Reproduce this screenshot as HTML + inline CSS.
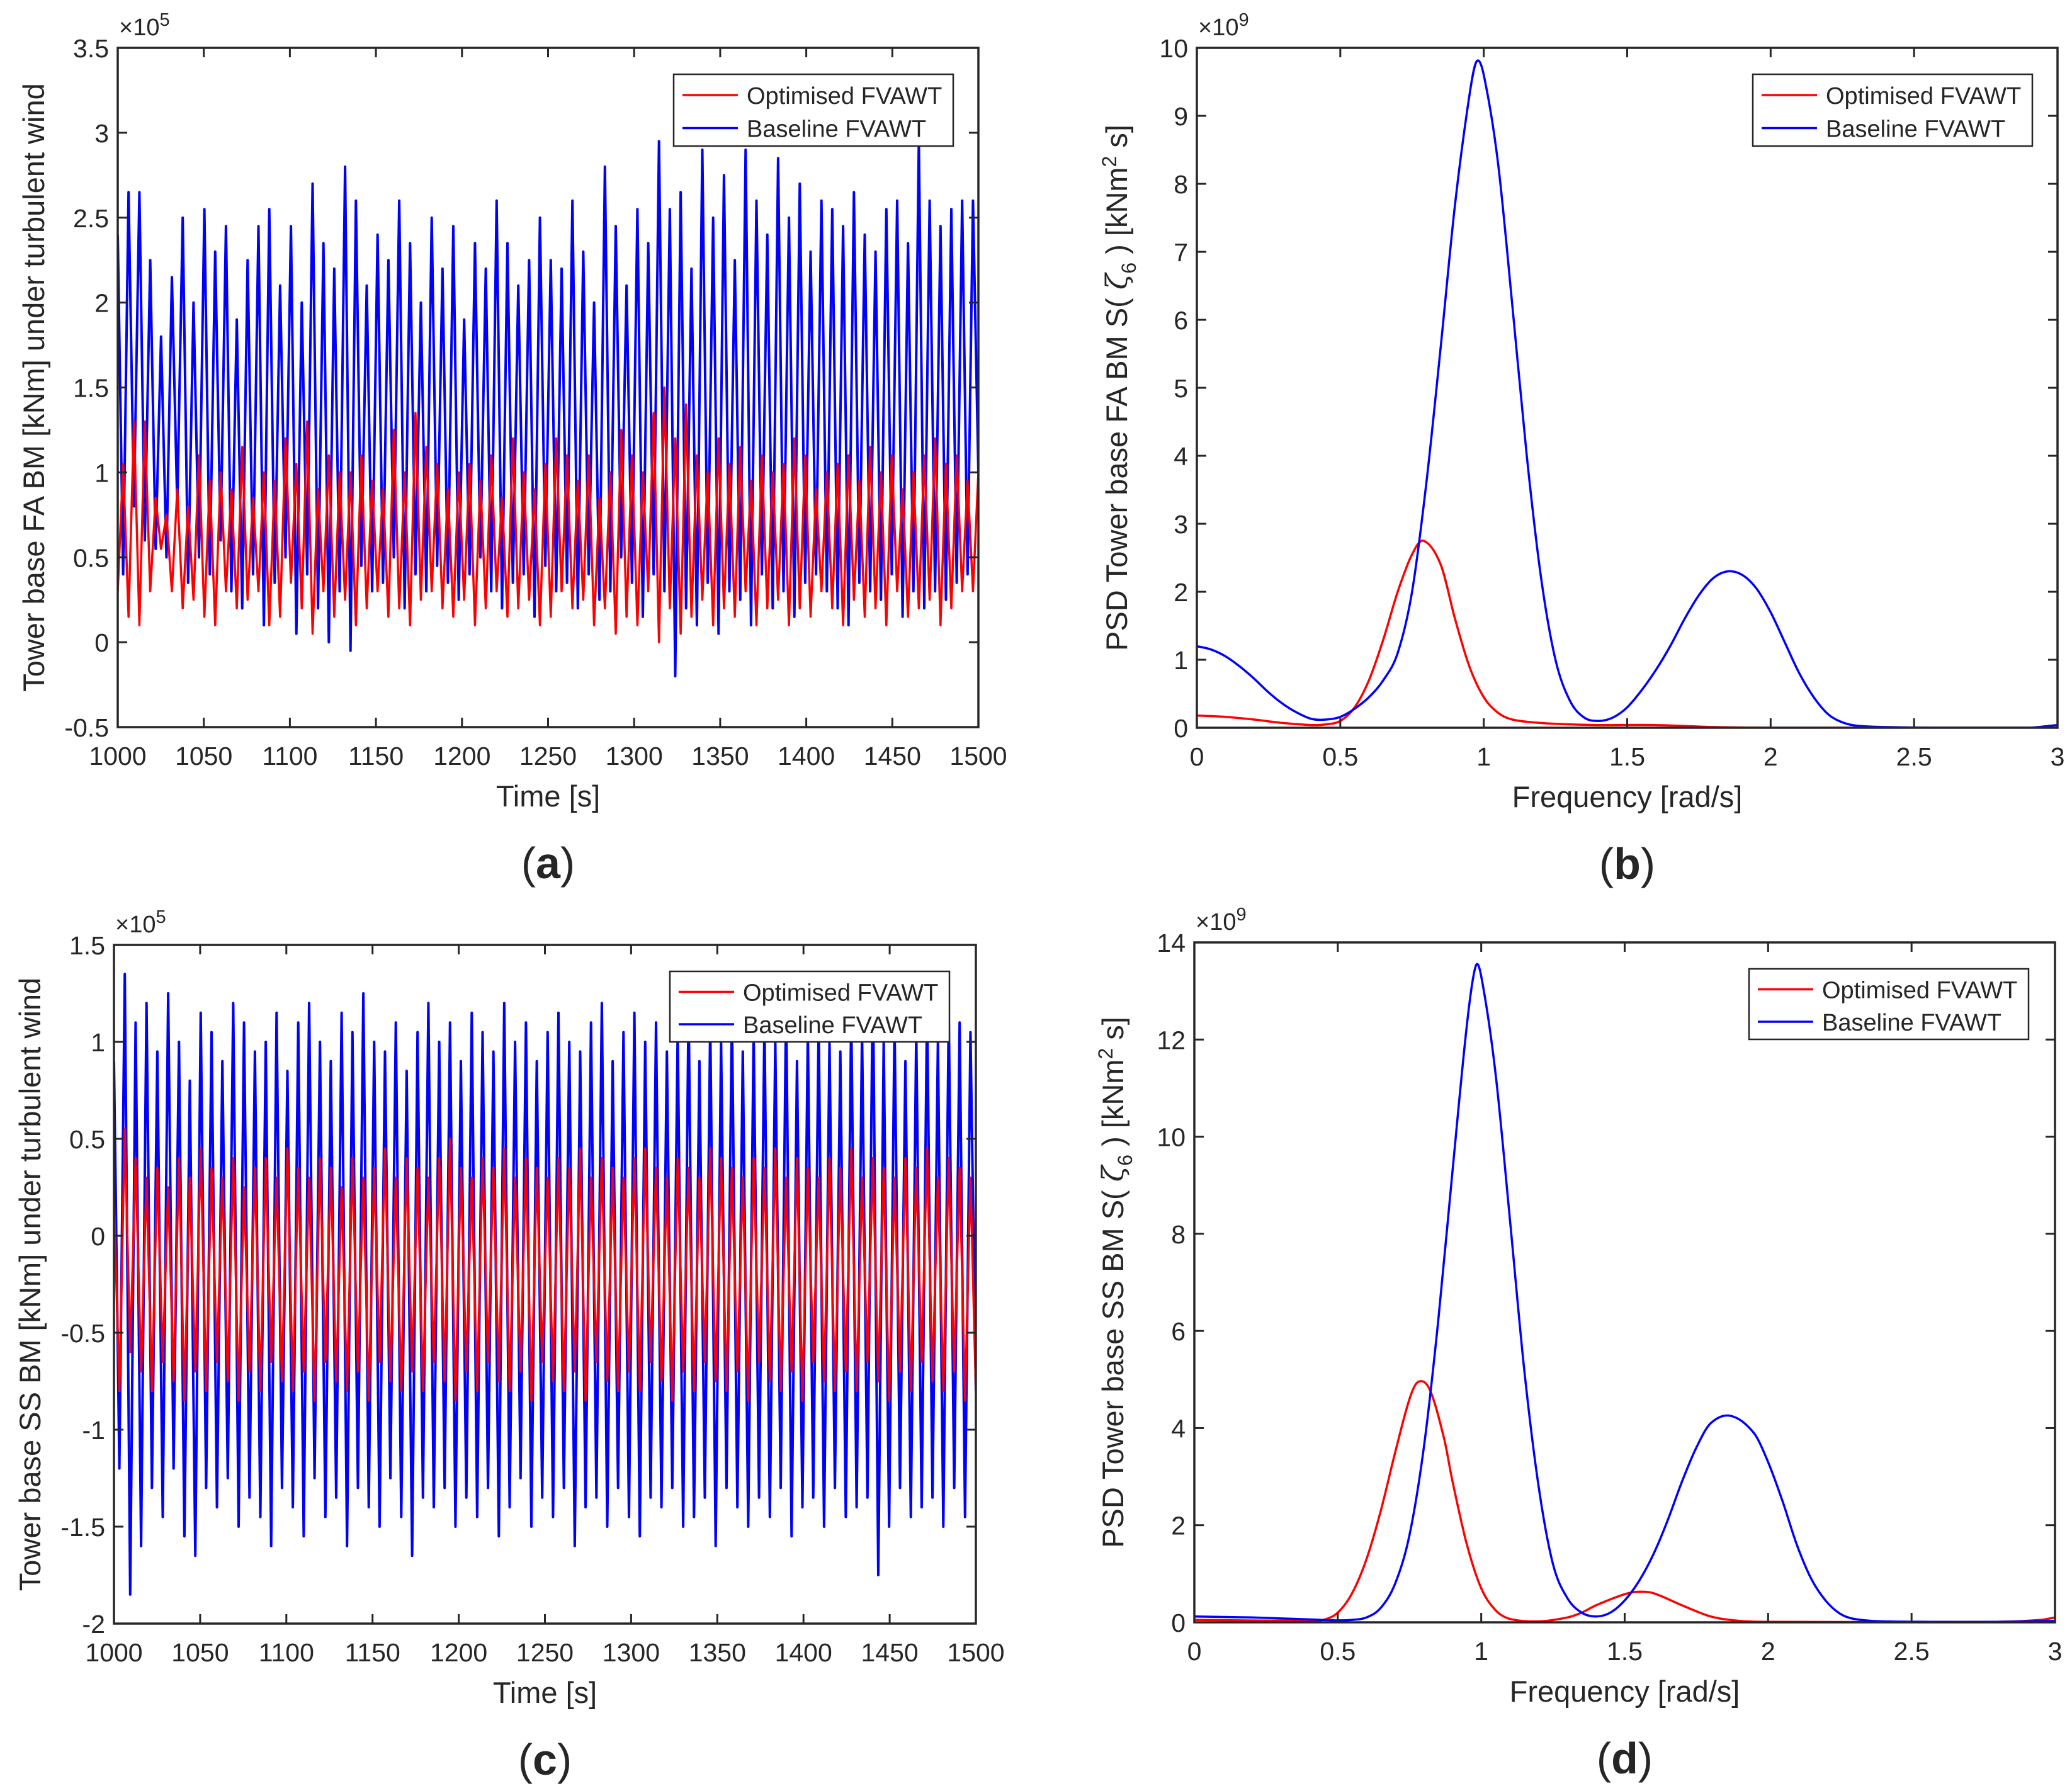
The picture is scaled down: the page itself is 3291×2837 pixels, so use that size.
<!DOCTYPE html>
<html><head><meta charset="utf-8"><style>
html,body{margin:0;padding:0;background:#fff}
svg{display:block}
text{font-family:"Liberation Sans",sans-serif;fill:#262626}
</style></head><body>
<svg id="fig" width="3291" height="2837" viewBox="0 0 3291 2837" xmlns="http://www.w3.org/2000/svg"></svg>
<script>
// ---------- DATA ----------
const aBluePeaks=[2.4,2.65,2.65,2.25,1.8,2.15,2.5,2.0,2.55,2.3,2.45,1.9,2.25,2.45,2.55,2.1,2.45,2.0,2.7,2.35,2.2,2.8,2.6,2.1,2.4,2.25,2.6,2.35,2.0,2.5,2.2,2.45,1.9,2.35,2.2,2.6,2.35,2.1,2.25,2.5,2.25,2.2,2.6,2.3,2.0,2.8,2.45,2.1,2.55,2.35,2.95,2.55,2.65,2.2,2.9,2.5,2.75,2.25,2.9,2.6,2.4,2.85,2.5,2.7,2.3,2.6,2.55,2.45,2.65,2.4,2.3,2.55,2.6,2.35,2.95,2.6,2.45,2.55,2.6,2.6];
const aBlueTroughs=[0.4,0.8,0.6,0.55,0.5,0.8,0.35,0.5,0.4,0.6,0.3,0.2,0.4,0.1,0.35,0.5,0.05,0.4,0.2,0.0,0.3,-0.05,0.45,0.3,0.35,0.5,0.2,0.4,0.3,0.45,0.35,0.25,0.4,0.5,0.3,0.2,0.35,0.4,0.15,0.45,0.3,0.35,0.2,0.4,0.25,0.3,0.5,0.35,0.15,0.4,0.3,-0.2,0.2,0.1,0.35,0.05,0.3,0.25,0.1,0.4,0.2,0.3,0.15,0.35,0.4,0.3,0.2,0.1,0.35,0.3,0.25,0.4,0.15,0.3,0.2,0.3,0.25,0.35,0.4,1.0];
const aRedPeaks=[1.05,1.3,1.3,0.85,0.75,0.9,0.8,1.1,0.95,1.0,0.9,1.15,0.85,1.0,0.95,1.2,1.05,1.3,0.9,1.1,1.0,1.0,1.1,0.95,0.9,1.25,1.0,1.35,1.15,1.05,0.9,1.0,1.05,0.95,1.1,0.85,1.2,1.0,0.9,1.05,1.2,1.1,0.95,1.1,0.85,1.0,1.25,1.1,1.0,1.35,1.5,1.2,1.4,1.1,1.0,1.2,1.05,1.15,0.95,1.1,1.0,1.05,1.2,1.1,0.9,1.0,1.05,1.1,0.95,1.15,1.0,1.1,0.9,1.0,1.1,1.2,1.05,1.1,0.95,1.0];
const aRedTroughs=[0.3,0.15,0.1,0.3,0.55,0.3,0.2,0.25,0.15,0.1,0.3,0.2,0.25,0.3,0.1,0.15,0.35,0.2,0.05,0.3,0.15,0.25,0.1,0.2,0.3,0.15,0.2,0.1,0.25,0.3,0.2,0.15,0.25,0.1,0.2,0.3,0.15,0.2,0.25,0.1,0.15,0.3,0.2,0.25,0.1,0.2,0.05,0.15,0.1,0.3,0.0,0.2,0.05,0.15,0.25,0.1,0.2,0.15,0.3,0.1,0.2,0.25,0.1,0.2,0.15,0.3,0.2,0.1,0.25,0.15,0.2,0.1,0.3,0.15,0.2,0.25,0.1,0.2,0.3,0.3];
const cBluePeaks=[0.9,1.35,1.1,1.2,0.95,1.25,1.0,0.8,1.15,1.05,0.9,1.2,1.1,0.95,1.0,1.15,0.85,1.1,1.2,1.0,0.9,1.15,1.05,1.25,1.0,0.95,1.1,0.85,1.05,1.2,1.0,1.1,0.9,1.15,1.05,0.95,1.2,1.0,1.1,0.9,1.05,1.15,1.0,0.95,1.1,1.2,0.9,1.05,1.15,1.0,1.1,0.95,1.05,1.2,0.9,1.1,1.0,1.15,0.95,1.05,1.1,1.0,1.2,0.9,1.05,1.1,1.0,0.95,1.15,1.05,1.35,1.0,1.1,0.9,1.05,1.2,1.0,1.15,1.1,1.05];
const cBlueTroughs=[-1.2,-1.85,-1.6,-1.3,-1.45,-1.2,-1.55,-1.65,-1.3,-1.4,-1.25,-1.5,-1.35,-1.45,-1.6,-1.3,-1.4,-1.55,-1.25,-1.45,-1.35,-1.6,-1.3,-1.4,-1.5,-1.25,-1.45,-1.65,-1.35,-1.4,-1.3,-1.5,-1.35,-1.45,-1.3,-1.55,-1.4,-1.25,-1.5,-1.35,-1.45,-1.3,-1.6,-1.4,-1.35,-1.5,-1.3,-1.45,-1.55,-1.35,-1.4,-1.3,-1.5,-1.45,-1.35,-1.6,-1.3,-1.4,-1.5,-1.35,-1.45,-1.3,-1.55,-1.4,-1.35,-1.5,-1.3,-1.45,-1.4,-1.35,-1.75,-1.5,-1.3,-1.45,-1.4,-1.35,-1.5,-1.3,-1.45,-0.8];
const cRedPeaks=[0.2,0.55,0.4,0.3,0.35,0.25,0.4,0.3,0.45,0.35,0.3,0.4,0.25,0.35,0.4,0.3,0.45,0.35,0.3,0.4,0.35,0.25,0.4,0.3,0.35,0.45,0.3,0.4,0.35,0.3,0.4,0.5,0.35,0.3,0.4,0.35,0.45,0.3,0.4,0.35,0.3,0.4,0.35,0.45,0.3,0.4,0.35,0.3,0.4,0.45,0.35,0.3,0.4,0.35,0.3,0.45,0.4,0.35,0.3,0.4,0.35,0.45,0.3,0.4,0.35,0.3,0.4,0.35,0.45,0.3,0.4,0.35,0.3,0.4,0.35,0.45,0.3,0.4,0.35,0.3];
const cRedTroughs=[-0.8,-0.6,-0.7,-0.8,-0.65,-0.75,-0.85,-0.7,-0.8,-0.65,-0.75,-0.85,-0.7,-0.8,-0.65,-0.75,-0.8,-0.7,-0.85,-0.65,-0.75,-0.8,-0.7,-0.85,-0.65,-0.75,-0.8,-0.7,-0.8,-0.65,-0.75,-0.85,-0.7,-0.8,-0.65,-0.75,-0.8,-0.7,-0.85,-0.65,-0.75,-0.8,-0.7,-0.85,-0.65,-0.75,-0.8,-0.7,-0.8,-0.65,-0.75,-0.85,-0.7,-0.8,-0.65,-0.75,-0.8,-0.7,-0.85,-0.65,-0.75,-0.8,-0.7,-0.85,-0.65,-0.75,-0.8,-0.7,-0.8,-0.65,-0.75,-0.85,-0.7,-0.8,-0.65,-0.75,-0.8,-0.7,-0.85,-0.8];

const bBlueF=[0,0.05,0.1,0.15,0.2,0.25,0.3,0.35,0.4,0.45,0.5,0.55,0.6,0.65,0.7,0.75,0.8,0.85,0.9,0.95,0.975,1.0,1.05,1.1,1.15,1.2,1.25,1.3,1.35,1.4,1.45,1.5,1.55,1.6,1.65,1.7,1.75,1.8,1.85,1.9,1.95,2.0,2.05,2.1,2.15,2.2,2.25,2.3,2.4,2.6,2.9,3.0];
const bBlueV=[1.2,1.15,1.05,0.9,0.72,0.52,0.35,0.22,0.13,0.12,0.16,0.28,0.45,0.7,1.1,2.0,3.6,5.6,7.7,9.3,9.8,9.6,8.3,6.2,4.0,2.2,1.0,0.4,0.15,0.1,0.15,0.3,0.55,0.85,1.2,1.6,1.95,2.2,2.3,2.25,2.05,1.7,1.25,0.8,0.45,0.2,0.08,0.03,0.01,0.0,0.0,0.04];
const bRedF=[0,0.1,0.2,0.3,0.4,0.45,0.5,0.55,0.6,0.65,0.7,0.75,0.79,0.85,0.9,0.95,1.0,1.05,1.1,1.2,1.3,1.4,1.6,1.8,2.0,3.0];
const bRedV=[0.18,0.16,0.12,0.07,0.04,0.05,0.1,0.3,0.7,1.3,2.0,2.55,2.75,2.4,1.6,0.9,0.45,0.22,0.12,0.07,0.05,0.04,0.04,0.01,0.0,0.0];
const dBlueF=[0,0.2,0.4,0.5,0.55,0.6,0.65,0.7,0.75,0.8,0.85,0.9,0.95,0.98,1.0,1.05,1.1,1.15,1.2,1.25,1.3,1.35,1.4,1.45,1.5,1.55,1.6,1.65,1.7,1.75,1.8,1.87,1.95,2.0,2.05,2.1,2.15,2.2,2.25,2.3,2.4,2.8,3.0];
const dBlueV=[0.12,0.1,0.06,0.04,0.05,0.1,0.3,0.8,1.8,3.6,6.2,9.3,12.3,13.5,13.3,11.3,8.3,5.2,2.8,1.2,0.5,0.2,0.12,0.2,0.45,0.85,1.4,2.1,2.9,3.6,4.1,4.25,3.9,3.3,2.5,1.6,0.9,0.45,0.18,0.07,0.02,0.01,0.03];
const dRedF=[0,0.4,0.45,0.5,0.55,0.6,0.65,0.7,0.75,0.78,0.82,0.87,0.9,0.95,1.0,1.05,1.1,1.2,1.3,1.35,1.4,1.5,1.55,1.6,1.7,1.8,1.9,2.0,2.8,2.95,3.0];
const dRedV=[0.05,0.03,0.05,0.2,0.6,1.3,2.3,3.5,4.6,4.95,4.8,3.8,2.9,1.6,0.7,0.25,0.07,0.02,0.1,0.2,0.35,0.58,0.63,0.6,0.35,0.12,0.03,0.01,0.01,0.05,0.1];

const ticksTime=[1000,1050,1100,1150,1200,1250,1300,1350,1400,1450,1500];
const ticksFreq=[0,0.5,1,1.5,2,2.5,3];
const ticksA=[-0.5,0,0.5,1,1.5,2,2.5,3,3.5];
const ticksB=[0,1,2,3,4,5,6,7,8,9,10];
const ticksC=[-2,-1.5,-1,-0.5,0,0.5,1,1.5];
const ticksD=[0,2,4,6,8,10,12,14];

// ---------- DRAWING ----------
const NS="http://www.w3.org/2000/svg";
const svg=document.getElementById('fig');
function mk(tag,attrs,parent){const e=document.createElementNS(NS,tag);for(const k in attrs)e.setAttribute(k,attrs[k]);(parent||svg).appendChild(e);return e;}
function fmt(v){return String(v);}
function interleave(p,t){const out=[];for(let i=0;i<p.length;i++){out.push(p[i]);out.push(t[i]);}return out;}

function panel(o){
  const g=mk('g',{});
  
  
  const sx=v=>o.x0+(v-o.xmin)/(o.xmax-o.xmin)*(o.x1-o.x0);
  const sy=v=>o.y1-(v-o.ymin)/(o.ymax-o.ymin)*(o.y1-o.y0);
  const cp=mk('clipPath',{id:'clip-'+o.name},g);
  mk('rect',{x:o.x0,y:o.y0,width:o.x1-o.x0,height:o.y1-o.y0},cp);
  mk('rect',{x:o.x0,y:o.y0,width:o.x1-o.x0,height:o.y1-o.y0,fill:'#fff'},g);
  const sg=mk('g',{'clip-path':'url(#clip-'+o.name+')'},g);
  o.series.forEach(s=>{
    let d='';
    if(s.smooth){
      const P=s.xs.map((x,i)=>[sx(x),sy(s.ys[i])]);
      const n=P.length;const m=[];
      for(let i=0;i<n;i++){
        const a=P[Math.max(0,i-1)],b=P[Math.min(n-1,i+1)];
        m.push((b[1]-a[1])/((b[0]-a[0])||1));
      }
      d='M'+P[0][0].toFixed(1)+','+P[0][1].toFixed(1);
      for(let i=0;i<n-1;i++){
        const dx=P[i+1][0]-P[i][0];
        let m0=m[i],m1=m[i+1];
        const c1=[P[i][0]+dx/3,P[i][1]+m0*dx/3],c2=[P[i+1][0]-dx/3,P[i+1][1]-m1*dx/3];
        c1[1]=Math.min(c1[1],o.y1);c2[1]=Math.min(c2[1],o.y1);
        d+='C'+c1[0].toFixed(1)+','+c1[1].toFixed(1)+' '+c2[0].toFixed(1)+','+c2[1].toFixed(1)+' '+P[i+1][0].toFixed(1)+','+P[i+1][1].toFixed(1);
      }
    } else {
      const n=s.ys.length;
      s.ys.forEach((v,i)=>{
        const t=o.xmin+(o.xmax-o.xmin)*i/(n-1);
        d+=(i?'L':'M')+sx(t).toFixed(1)+','+sy(v).toFixed(1);
      });
    }
    const p=mk('path',{d:d,fill:'none',stroke:s.color,'stroke-width':s.w||3.5,'stroke-linejoin':'round'},sg);
    
    
  });
  const box=mk('rect',{x:o.x0,y:o.y0,width:o.x1-o.x0,height:o.y1-o.y0,fill:'none',stroke:'#262626','stroke-width':3.5},g);
  
  
  const TL=15;
  o.xticks.forEach(v=>{
    const x=sx(v);
    mk('line',{x1:x,y1:o.y1,x2:x,y2:o.y1-TL,stroke:'#262626','stroke-width':3},g);
    mk('line',{x1:x,y1:o.y0,x2:x,y2:o.y0+TL,stroke:'#262626','stroke-width':3},g);
    const t=mk('text',{x:x,y:o.y1+60,'font-size':41,'text-anchor':'middle'},g);
    t.textContent=fmt(v);
    
    
  });
  o.yticks.forEach(v=>{
    const y=sy(v);
    mk('line',{x1:o.x0,y1:y,x2:o.x0+TL,y2:y,stroke:'#262626','stroke-width':3},g);
    mk('line',{x1:o.x1,y1:y,x2:o.x1-TL,y2:y,stroke:'#262626','stroke-width':3},g);
    const t=mk('text',{x:o.x0-14,y:y+15,'font-size':41,'text-anchor':'end'},g);
    t.textContent=fmt(v);
    
    
  });
  const ex=mk('text',{x:o.x0+2,y:o.y0-20,'font-size':38},g);
  
  
  ex.textContent='\u00d710';
  const sup=mk('tspan',{dy:-15,'font-size':29},ex);sup.textContent=o.exp;
  const xl=mk('text',{x:(o.x0+o.x1)/2,y:o.y1+126,'font-size':47,'text-anchor':'middle'},g);
  xl.textContent=o.xlabel;
  
  
  const yc=(o.y0+o.y1)/2;
  const yl=mk('text',{x:0,y:0,'font-size':47,'text-anchor':'middle',transform:'translate('+o.ylx+','+yc+') rotate(-90)'},g);
  
  
  if(o.psd){
    yl.appendChild(document.createTextNode(o.ylabel+' S( '));
    const z=mk('tspan',{'font-family':'"DejaVu Serif",serif','font-style':'italic'},yl);z.textContent='\u03b6';
    const s6=mk('tspan',{dy:14,'font-size':32},yl);s6.textContent='6';
    const r=mk('tspan',{dy:-14},yl);r.textContent=' ) [kNm';
    const s2=mk('tspan',{dy:-17,'font-size':32},yl);s2.textContent='2';
    const r2=mk('tspan',{dy:17},yl);r2.textContent=' s]';
  } else yl.textContent=o.ylabel;
  const L=o.leg;
  const lg=mk('g',{},g);
  
  
  mk('rect',{x:L[0],y:L[1],width:L[2],height:L[3],fill:'#fff',stroke:'#262626','stroke-width':2.5},lg);
  [['Optimised FVAWT','#ff0000'],['Baseline FVAWT','#0000ff']].forEach((e,i)=>{
    const yy=L[1]+L[3]*(0.29+0.46*i);
    const en=mk('g',{},lg);
    
    
    mk('line',{x1:L[0]+14,y1:yy,x2:L[0]+102,y2:yy,stroke:e[1],'stroke-width':3.5},en);
    const t=mk('text',{x:L[0]+116,y:yy+14,'font-size':38,fill:'#000'},en);
    t.textContent=e[0];
  });
  const pl=mk('text',{x:(o.x0+o.x1)/2,y:o.y1+240,'font-size':70,'text-anchor':'middle','font-family':'"Liberation Serif",serif'},g);
  
  
  pl.appendChild(document.createTextNode('('));
  const b=mk('tspan',{'font-weight':'bold'},pl);b.textContent=o.letter;
  pl.appendChild(document.createTextNode(')'));
}

panel({name:'panel-a',x0:187,x1:1554,y0:76,y1:1155,xmin:1000,xmax:1500,ymin:-0.5,ymax:3.5,
  xticks:ticksTime,yticks:ticksA,exp:'5',xlabel:'Time [s]',ylabel:'Tower base FA BM [kNm] under turbulent wind',ylx:70,
  leg:[1070,118,444,114],letter:'a',
  series:[{name:'baseline-series',color:'#0000ff',ys:interleave(aBluePeaks,aBlueTroughs),w:4},
          {name:'optimised-series',color:'#ff0000',ys:interleave(aRedTroughs,aRedPeaks),w:3.5}]});
panel({name:'panel-b',x0:1901,x1:3268,y0:76,y1:1156,xmin:0,xmax:3,ymin:0,ymax:10,
  xticks:ticksFreq,yticks:ticksB,exp:'9',xlabel:'Frequency [rad/s]',ylabel:'PSD Tower base FA BM',ylx:1790,psd:true,
  leg:[2784,118,444,114],letter:'b',
  series:[{name:'optimised-psd',color:'#ff0000',xs:bRedF,ys:bRedV,smooth:true},
          {name:'baseline-psd',color:'#0000ff',xs:bBlueF,ys:bBlueV,smooth:true}]});
panel({name:'panel-c',x0:181,x1:1550,y0:1501,y1:2579,xmin:1000,xmax:1500,ymin:-2,ymax:1.5,
  xticks:ticksTime,yticks:ticksC,exp:'5',xlabel:'Time [s]',ylabel:'Tower base SS BM [kNm] under turbulent wind',ylx:64,
  leg:[1064,1543,444,112],letter:'c',
  series:[{name:'baseline-series',color:'#0000ff',ys:interleave(cBluePeaks,cBlueTroughs),w:4},
          {name:'optimised-series',color:'#ff0000',ys:interleave(cRedPeaks,cRedTroughs),w:3.5}]});
panel({name:'panel-d',x0:1897,x1:3264,y0:1497,y1:2577,xmin:0,xmax:3,ymin:0,ymax:14,
  xticks:ticksFreq,yticks:ticksD,exp:'9',xlabel:'Frequency [rad/s]',ylabel:'PSD Tower base SS BM',ylx:1784,psd:true,
  leg:[2778,1539,444,112],letter:'d',
  series:[{name:'optimised-psd',color:'#ff0000',xs:dRedF,ys:dRedV,smooth:true},
          {name:'baseline-psd',color:'#0000ff',xs:dBlueF,ys:dBlueV,smooth:true}]});
</script>
</body></html>
